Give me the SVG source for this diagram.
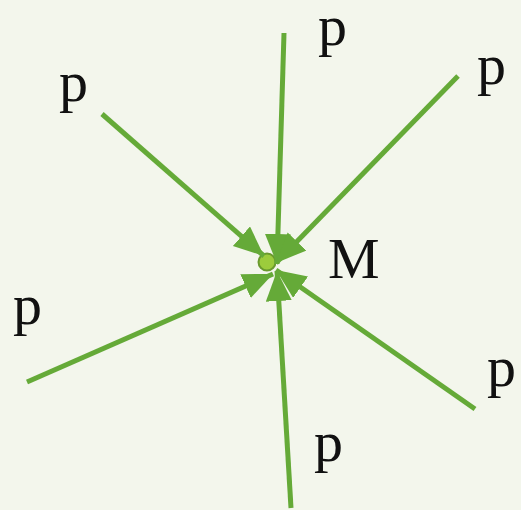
<svg xmlns="http://www.w3.org/2000/svg" width="521" height="510" viewBox="0 0 521 510">
<style>
.c{stroke:#65aa38;stroke-width:5;fill:none;marker-end:url(#ah)}
text{font-family:"Liberation Serif","Times New Roman",Times,serif;font-size:58px;fill:#111}
</style>
<defs>
<marker id="ah" markerUnits="userSpaceOnUse" markerWidth="32" markerHeight="28" refX="30" refY="13" orient="auto">
<path d="M0,0 L30,13 L0,26 Z" fill="#65aa38"/>
</marker>
</defs>
<rect width="521" height="510" fill="#f3f6ec"/>
<g id="M">
<circle cx="267" cy="262" r="8.5" fill="#9ccc3c" stroke="#6a9a2e" stroke-width="2"/>
<text x="328" y="278">M</text>
</g>
<g id="connectors">
<line class="c" x1="284" y1="33" x2="277" y2="264"/>
<line class="c" x1="102" y1="114" x2="264" y2="256"/>
<line class="c" x1="458" y1="76" x2="276" y2="263"/>
<line class="c" x1="27" y1="382" x2="273" y2="274"/>
<line class="c" x1="475" y1="409" x2="276" y2="270"/>
<line class="c" x1="291" y1="508" x2="277" y2="271"/>
</g>
<g id="p1"><text x="318" y="45">p</text></g>
<g id="p2"><text x="477" y="84">p</text></g>
<g id="p3"><text x="59" y="101">p</text></g>
<g id="p4"><text x="13" y="324">p</text></g>
<g id="p5"><text x="487" y="386">p</text></g>
<g id="p6"><text x="314" y="461">p</text></g>
</svg>
